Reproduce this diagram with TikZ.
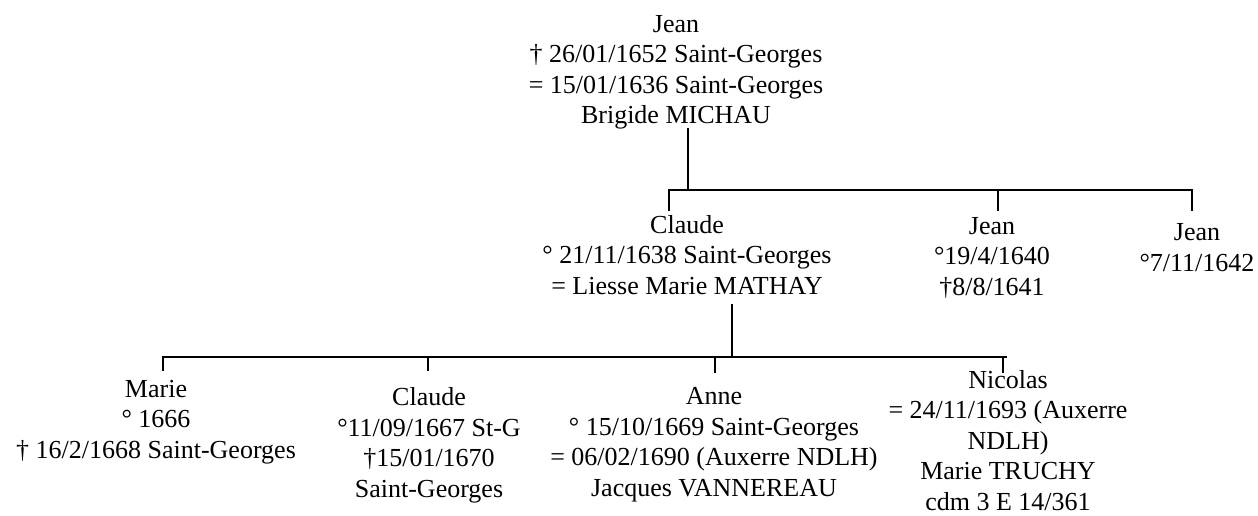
\documentclass[tikz,border=0pt]{standalone}
\usepackage{fontspec}
\setmainfont{Liberation Serif}
\begin{document}
\begin{tikzpicture}[x=1pt,y=-1pt,
  person/.style={align=center, anchor=base, inner sep=0pt, font=\fontsize{26}{30.5}\selectfont},
  link/.style={line width=1.8pt, line cap=rect}]
\useasboundingbox (0,0) rectangle (1258,516);
% generation 1 (positions give the baseline of the last line)
\node[person] (jean) at (676,124) {Jean\\† 26/01/1652 Saint-Georges\\= 15/01/1636 Saint-Georges\\Brigide MICHAU};
% generation 2
\node[person] (claude) at (687,294) {Claude\\° 21/11/1638 Saint-Georges\\= Liesse Marie MATHAY};
\node[person] (jeanb) at (992,295) {Jean\\°19/4/1640\\†8/8/1641};
\node[person] (jeanc) at (1197,271) {Jean\\°7/11/1642};
% generation 3
\node[person] (marie) at (156,458) {Marie\\° 1666\\† 16/2/1668 Saint-Georges};
\node[person] (claudeb) at (429,497) {Claude\\°11/09/1667 St-G\\†15/01/1670\\Saint-Georges};
\node[person] (anne) at (714,496) {Anne\\° 15/10/1669 Saint-Georges\\= 06/02/1690 (Auxerre NDLH)\\Jacques VANNEREAU};
\node[person] (nicolas) at (1008,510) {Nicolas\\= 24/11/1693 (Auxerre\\NDLH)\\Marie TRUCHY\\cdm 3 E 14/361};
% bar coordinates, first family
\coordinate (j0) at (688,129);
\coordinate (j1) at (688,190);
\coordinate (bl) at (669,190);
\coordinate (bm) at (998,190);
\coordinate (br) at (1192,190);
\coordinate (dl) at (669,210);
\coordinate (dm) at (998,210);
\coordinate (dr) at (1192,210);
% bar coordinates, second family
\coordinate (c0) at (732,305);
\coordinate (c1) at (732,357);
\coordinate (e1) at (163,357);
\coordinate (e2) at (428,357);
\coordinate (e3) at (715,357);
\coordinate (e4) at (1006,357);
\coordinate (f1) at (163,370);
\coordinate (f2) at (428,370);
\coordinate (f3) at (715,372);
\coordinate (f4) at (1003,372);
\coordinate (e4t) at (1003,357);
% connectors
\draw[link] (j0) -- (j1);
\draw[link] (dl) -- (bl) -- (br) -- (dr);
\draw[link] (bm) -- (dm);
\draw[link] (c0) -- (c1);
\draw[link] (f1) -- (e1) -- (e4);
\draw[link] (e2) -- (f2);
\draw[link] (e3) -- (f3);
\draw[link] (e4t) -- (f4);
\end{tikzpicture}
\end{document}
